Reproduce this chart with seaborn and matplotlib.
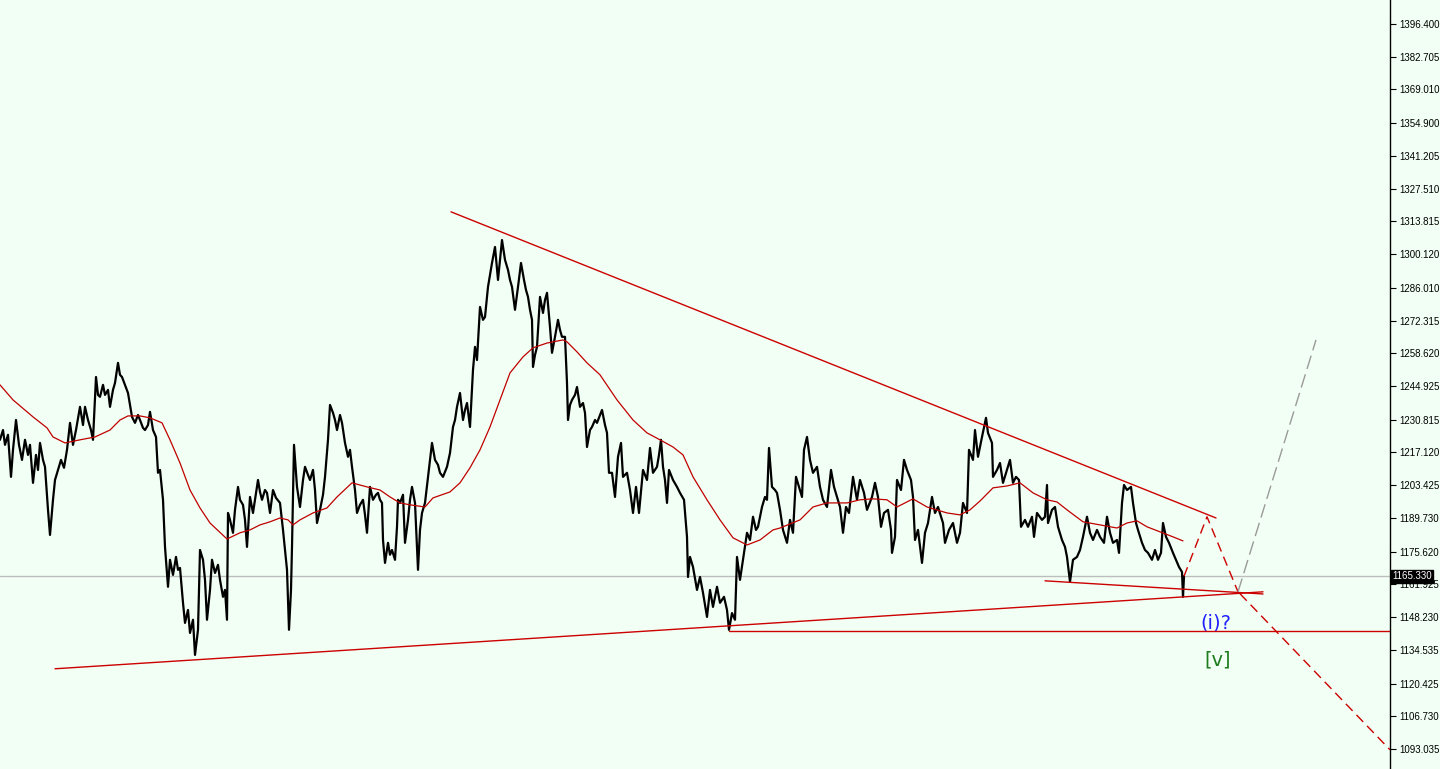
import matplotlib
matplotlib.use("Agg")
import matplotlib.pyplot as plt
import matplotlib.transforms as mtransforms
import seaborn as sns
import pandas as pd

# price readings (bar index, close)
bar_x = [
    0, 3, 5, 8, 11, 13, 16, 19, 22, 25, 28, 30, 33, 36, 38, 40, 43, 45, 48, 50,
    53, 55, 58, 61, 64, 67, 70, 73, 76, 80, 83, 85, 88, 91, 93, 96, 98, 100, 103, 105,
    108, 110, 113, 115, 118, 120, 122, 125, 128, 130, 132, 135, 138, 140, 143, 145, 148, 150, 153, 156,
    158, 160, 163, 165, 168, 170, 173, 176, 178, 180, 183, 185, 188, 190, 193, 195, 198, 200, 203, 205,
    207, 210, 212, 215, 218, 220, 223, 225, 227, 228, 230, 233, 235, 238, 240, 243, 245, 247, 250, 253,
    255, 258, 260, 262, 265, 267, 270, 273, 276, 280, 283, 285, 287, 289, 291, 292, 294, 297, 300, 303,
    305, 308, 310, 313, 315, 317, 320, 323, 325, 328, 330, 333, 335, 337, 340, 342, 345, 348, 350, 352,
    355, 357, 360, 363, 365, 367, 370, 373, 376, 378, 380, 382, 383, 385, 388, 390, 392, 395, 397, 398,
    400, 403, 405, 408, 410, 412, 415, 418, 420, 422, 425, 428, 430, 432, 435, 438, 440, 443, 447, 450,
    453, 455, 457, 460, 463, 465, 467, 470, 473, 475, 477, 480, 483, 485, 488, 490, 492, 495, 498, 500,
    502, 505, 508, 510, 512, 515, 518, 521, 524, 526, 528, 530, 532, 533, 535, 537, 540, 543, 545, 547,
    550, 552, 555, 558, 560, 562, 565, 567, 568, 570, 572, 575, 577, 580, 583, 585, 587, 590, 592, 595,
    597, 600, 602, 605, 607, 609, 612, 615, 618, 621, 623, 627, 630, 633, 636, 639, 643, 647, 650, 653,
    657, 659, 661, 663, 665, 667, 669, 673, 677, 680, 684, 687, 688, 690, 693, 697, 700, 703, 707, 710,
    713, 717, 720, 724, 727, 729, 732, 735, 737, 740, 743, 747, 750, 753, 756, 758, 762, 765, 767, 769,
    772, 775, 777, 780, 783, 787, 790, 793, 796, 799, 802, 804, 807, 810, 813, 817, 820, 823, 827, 831,
    834, 837, 840, 843, 846, 849, 853, 857, 860, 864, 867, 872, 875, 878, 881, 884, 888, 891, 892, 895,
    897, 901, 904, 907, 911, 913, 915, 918, 922, 925, 928, 932, 935, 938, 943, 945, 949, 953, 957, 960,
    963, 967, 969, 973, 975, 978, 982, 986, 988, 992, 993, 997, 1000, 1003, 1007, 1010, 1013, 1016, 1019, 1021,
    1025, 1028, 1032, 1034, 1037, 1042, 1045, 1047, 1048, 1052, 1055, 1058, 1062, 1065, 1067, 1070, 1073, 1077, 1080, 1083,
    1087, 1090, 1093, 1097, 1100, 1104, 1107, 1110, 1113, 1117, 1119, 1122, 1124, 1127, 1131, 1133, 1136, 1138, 1142, 1145,
    1148, 1152, 1155, 1158, 1161, 1163, 1166, 1169, 1173, 1176, 1179, 1182, 1183, 1184,
]
close = [
    1222.4, 1226.5, 1220.3, 1224.5, 1206.9, 1218.2, 1230.7, 1220.3, 1214.0, 1222.4, 1216.1, 1220.3, 1204.4, 1216.1, 1209.8, 1221.1, 1214.0, 1211.1, 1193.1, 1182.6,
    1197.3, 1205.6, 1209.8, 1214.0, 1210.7, 1218.2, 1229.5, 1220.3, 1226.5, 1236.2, 1228.6, 1236.2, 1230.7, 1226.5, 1222.4, 1248.7, 1241.2, 1240.4, 1245.4, 1241.2,
    1243.3, 1236.2, 1243.3, 1246.2, 1254.6, 1249.6, 1248.7, 1245.4, 1242.0, 1237.0, 1232.0, 1229.5, 1232.8, 1230.7, 1227.4, 1226.5, 1228.6, 1234.1, 1226.5, 1223.6,
    1208.6, 1209.8, 1197.3, 1177.6, 1160.9, 1172.2, 1165.9, 1173.4, 1168.0, 1168.8, 1154.2, 1145.8, 1151.2, 1141.6, 1147.1, 1132.4, 1142.9, 1176.3, 1172.2, 1163.8,
    1147.1, 1159.6, 1172.2, 1166.7, 1170.1, 1163.8, 1156.7, 1159.6, 1147.1, 1191.8, 1188.9, 1183.5, 1193.1, 1202.7, 1197.3, 1195.2, 1188.9, 1177.6, 1198.5, 1191.8,
    1197.3, 1205.6, 1200.6, 1197.3, 1201.4, 1200.2, 1191.8, 1201.4, 1198.1, 1196.0, 1184.7, 1176.3, 1168.0, 1142.9, 1159.6, 1177.6, 1220.3, 1202.7, 1194.3, 1205.6,
    1211.1, 1207.7, 1205.6, 1209.8, 1201.4, 1187.6, 1193.1, 1199.4, 1206.9, 1222.4, 1237.0, 1233.7, 1230.7, 1226.5, 1232.8, 1229.5, 1221.1, 1215.3, 1218.2, 1211.1,
    1201.4, 1191.8, 1195.2, 1197.3, 1191.0, 1183.5, 1202.7, 1197.3, 1199.4, 1200.2, 1197.3, 1196.0, 1180.5, 1170.9, 1179.3, 1174.3, 1176.3, 1172.2, 1186.0, 1197.3,
    1196.0, 1199.4, 1179.3, 1188.9, 1197.3, 1202.7, 1196.0, 1168.0, 1184.7, 1191.8, 1196.0, 1206.9, 1214.0, 1221.1, 1214.0, 1211.9, 1208.6, 1206.9, 1211.1, 1216.9,
    1227.8, 1230.7, 1236.2, 1242.0, 1230.7, 1234.9, 1237.8, 1227.8, 1251.7, 1261.3, 1255.8, 1278.0, 1272.6, 1273.8, 1286.4, 1291.4, 1296.4, 1303.1, 1289.3, 1297.7,
    1306.0, 1297.7, 1293.5, 1289.3, 1286.4, 1276.8, 1286.4, 1296.4, 1289.3, 1285.1, 1282.2, 1276.8, 1272.6, 1252.9, 1257.9, 1261.3, 1282.2, 1275.5, 1280.9, 1283.9,
    1269.6, 1258.8, 1265.5, 1272.6, 1268.4, 1265.5, 1265.5, 1246.2, 1230.7, 1237.0, 1239.1, 1241.2, 1244.5, 1236.2, 1237.8, 1233.7, 1219.4, 1226.5, 1227.8, 1230.7,
    1229.5, 1232.8, 1234.9, 1228.6, 1225.3, 1208.6, 1208.6, 1198.5, 1215.3, 1221.1, 1206.9, 1208.6, 1201.4, 1191.8, 1202.7, 1191.8, 1209.8, 1205.6, 1219.0, 1208.6,
    1211.1, 1216.1, 1222.4, 1211.1, 1205.6, 1196.0, 1209.8, 1205.6, 1202.7, 1200.2, 1197.3, 1181.8, 1165.0, 1173.4, 1169.2, 1159.6, 1165.0, 1158.4, 1148.3, 1159.6,
    1152.5, 1160.9, 1154.2, 1156.7, 1151.2, 1142.9, 1149.9, 1147.1, 1173.4, 1163.8, 1172.2, 1183.5, 1180.5, 1190.2, 1184.7, 1186.0, 1194.3, 1198.5, 1197.3, 1219.0,
    1202.7, 1201.4, 1200.2, 1193.1, 1184.7, 1179.3, 1188.9, 1183.5, 1206.9, 1202.7, 1198.5, 1218.2, 1223.6, 1214.0, 1208.6, 1211.1, 1202.7, 1197.3, 1194.3, 1209.8,
    1202.7, 1198.5, 1194.3, 1183.5, 1194.3, 1191.8, 1206.9, 1197.3, 1205.6, 1200.2, 1193.1, 1198.5, 1204.4, 1198.5, 1186.0, 1191.8, 1193.1, 1184.7, 1175.1, 1181.8,
    1205.6, 1201.4, 1214.0, 1209.8, 1205.6, 1198.5, 1180.5, 1184.7, 1170.9, 1183.5, 1187.6, 1198.5, 1191.8, 1194.3, 1187.6, 1179.3, 1184.7, 1187.6, 1179.3, 1183.5,
    1196.0, 1191.8, 1218.2, 1214.0, 1226.5, 1215.3, 1223.6, 1231.6, 1225.3, 1221.1, 1206.9, 1209.8, 1212.7, 1204.4, 1209.8, 1214.0, 1204.4, 1206.9, 1205.6, 1186.0,
    1188.9, 1186.0, 1190.2, 1181.8, 1191.8, 1188.9, 1190.2, 1203.5, 1187.6, 1193.1, 1194.3, 1186.0, 1180.5, 1177.6, 1173.4, 1163.0, 1172.2, 1173.4, 1176.3, 1181.8,
    1190.2, 1183.5, 1180.5, 1184.7, 1181.8, 1179.3, 1190.2, 1183.5, 1179.3, 1180.5, 1175.1, 1196.0, 1203.5, 1201.4, 1202.7, 1196.0, 1187.6, 1184.7, 1179.3, 1176.3,
    1175.1, 1172.2, 1176.3, 1172.2, 1175.1, 1187.6, 1181.8, 1179.3, 1175.1, 1172.2, 1169.2, 1167.1, 1156.7, 1165.3,
]

# moving average readings
ma_x = [
    0, 13, 33, 47, 53, 65, 80, 95, 110, 120, 128, 140, 150, 162, 170, 180, 190, 200, 210, 227,
    240, 250, 260, 270, 280, 288, 293, 300, 313, 327, 337, 352, 367, 380, 390, 400, 410, 425, 433, 450,
    460, 470, 480, 490, 500, 510, 523, 533, 547, 563, 567, 577, 587, 600, 617, 633, 647, 660, 673, 683,
    693, 707, 720, 733, 747, 760, 773, 780, 800, 813, 827, 847, 860, 873, 887, 897, 913, 927, 947, 960,
    970, 980, 993, 1007, 1020, 1033, 1047, 1057, 1067, 1083, 1100, 1117, 1127, 1137, 1147, 1160, 1173, 1183,
]
ma_val = [
    1245.4, 1239.1, 1232.0, 1227.4, 1223.6, 1221.1, 1222.4, 1223.6, 1226.5, 1230.7, 1232.4, 1232.4, 1231.6, 1229.5, 1222.4, 1212.7, 1201.4, 1193.9, 1187.6, 1180.9,
    1183.5, 1184.7, 1186.8, 1188.1, 1189.7, 1188.9, 1186.8, 1188.9, 1191.8, 1193.9, 1198.5, 1204.4, 1202.7, 1201.4, 1198.5, 1196.0, 1195.2, 1194.3, 1198.1, 1200.6,
    1204.4, 1210.7, 1218.2, 1227.8, 1239.1, 1250.4, 1257.1, 1260.9, 1262.9, 1264.2, 1263.4, 1259.2, 1254.6, 1249.6, 1239.1, 1230.7, 1225.3, 1222.4, 1219.4, 1216.1,
    1206.9, 1197.3, 1188.9, 1181.4, 1178.4, 1180.5, 1184.7, 1185.5, 1188.9, 1194.3, 1196.0, 1196.0, 1197.3, 1197.7, 1197.3, 1194.3, 1197.7, 1194.3, 1191.8, 1191.0,
    1193.1, 1196.8, 1202.3, 1203.1, 1204.4, 1200.2, 1197.3, 1196.4, 1193.1, 1188.1, 1186.8, 1185.5, 1187.6, 1188.5, 1186.0, 1183.9, 1181.8, 1180.1,
]

# drawn trend lines (bar, price)
upper_x, upper_p = [451, 1216], [1317.8, 1189.7]
lower_x, lower_p = [55, 1263], [1126.6, 1158.8]
short_x, short_p = [1045, 1263], [1163.4, 1157.9]
support_x, support_p = [729, 1390], [1142.5, 1142.5]
proj_red_x, proj_red_p = [1184, 1207, 1238], [1165.3, 1190.2, 1158.8]
proj_down_x, proj_down_p = [1240, 1390], [1158.0, 1092.7]
proj_up_x, proj_up_p = [1238, 1316], [1158.8, 1264.2]

current_price = 1165.33
tick_values = [1396.400, 1382.705, 1369.010, 1354.900, 1341.205, 1327.510, 1313.815,
               1300.120, 1286.010, 1272.315, 1258.620, 1244.925, 1230.815, 1217.120,
               1203.425, 1189.730, 1175.620, 1161.925, 1148.230, 1134.535, 1120.425,
               1106.730, 1093.035]

bg = "#F2FFF4"
red = "#CC0000"

sns.set_theme(style="white")
plt.rcParams["font.family"] = ["Liberation Sans", "DejaVu Sans"]

fig = plt.figure(figsize=(14.4, 7.69), dpi=100, facecolor=bg)
ax = fig.add_axes([0, 0, 1390 / 1440, 1])
ax.set_facecolor(bg)

df = pd.DataFrame({"bar": bar_x, "close": close})
df_ma = pd.DataFrame({"bar": ma_x, "ma": ma_val})

ax.axhline(current_price, color="#BDBDBD", lw=1, zorder=1)

sns.lineplot(data=df, x="bar", y="close", ax=ax, color="black", lw=1.6,
             estimator=None, sort=False, zorder=3)
sns.lineplot(data=df_ma, x="bar", y="ma", ax=ax, color="#C00000", lw=0.9,
             estimator=None, sort=False, zorder=4)

for xs, ps in [(upper_x, upper_p), (lower_x, lower_p), (short_x, short_p), (support_x, support_p)]:
    ax.plot(xs, ps, color=red, lw=1.0, zorder=5)

ax.plot(proj_red_x, proj_red_p, color=red, lw=1.0, ls=(0, (7, 4)), zorder=5)
ax.plot(proj_down_x, proj_down_p, color=red, lw=1.0, ls=(0, (7, 4)), zorder=5)
ax.plot(proj_up_x, proj_up_p, color="#9A9A9A", lw=1.0, ls=(0, (10, 4)), zorder=5)

ax.text(1216, 1145.8, "(i)?", color="#2020FF", fontsize=14, ha="center", va="center",
        family=["DejaVu Sans"])
ax.text(1218, 1130.3, "[v]", color="#1E7B1E", fontsize=14, ha="center", va="center",
        family=["DejaVu Sans"])

ax.set_xlim(0, 1390)
ax.set_ylim(1084.66, 1406.44)
ax.set_xlabel("")
ax.set_ylabel("")
ax.set_xticks([])
ax.yaxis.tick_right()
ax.set_yticks(tick_values)
ax.set_yticklabels([f"{v:.3f}" for v in tick_values])
ax.tick_params(axis="y", direction="out", length=4, width=0.8, color="black",
               labelsize=7, pad=3, labelcolor="black", right=True, left=False)

for side in ["left", "top", "bottom"]:
    ax.spines[side].set_visible(False)
ax.spines["right"].set_color("black")
ax.spines["right"].set_linewidth(1.0)

trans = mtransforms.blended_transform_factory(ax.transAxes, ax.transData)
ax.text(1.0015, current_price, f"{current_price:.3f}", transform=trans, color="white",
        fontsize=7, ha="left", va="center", clip_on=False, zorder=10,
        bbox=dict(boxstyle="square,pad=0.15", facecolor="black", edgecolor="black"))

fig.savefig("out.png", dpi=100, facecolor=bg)
